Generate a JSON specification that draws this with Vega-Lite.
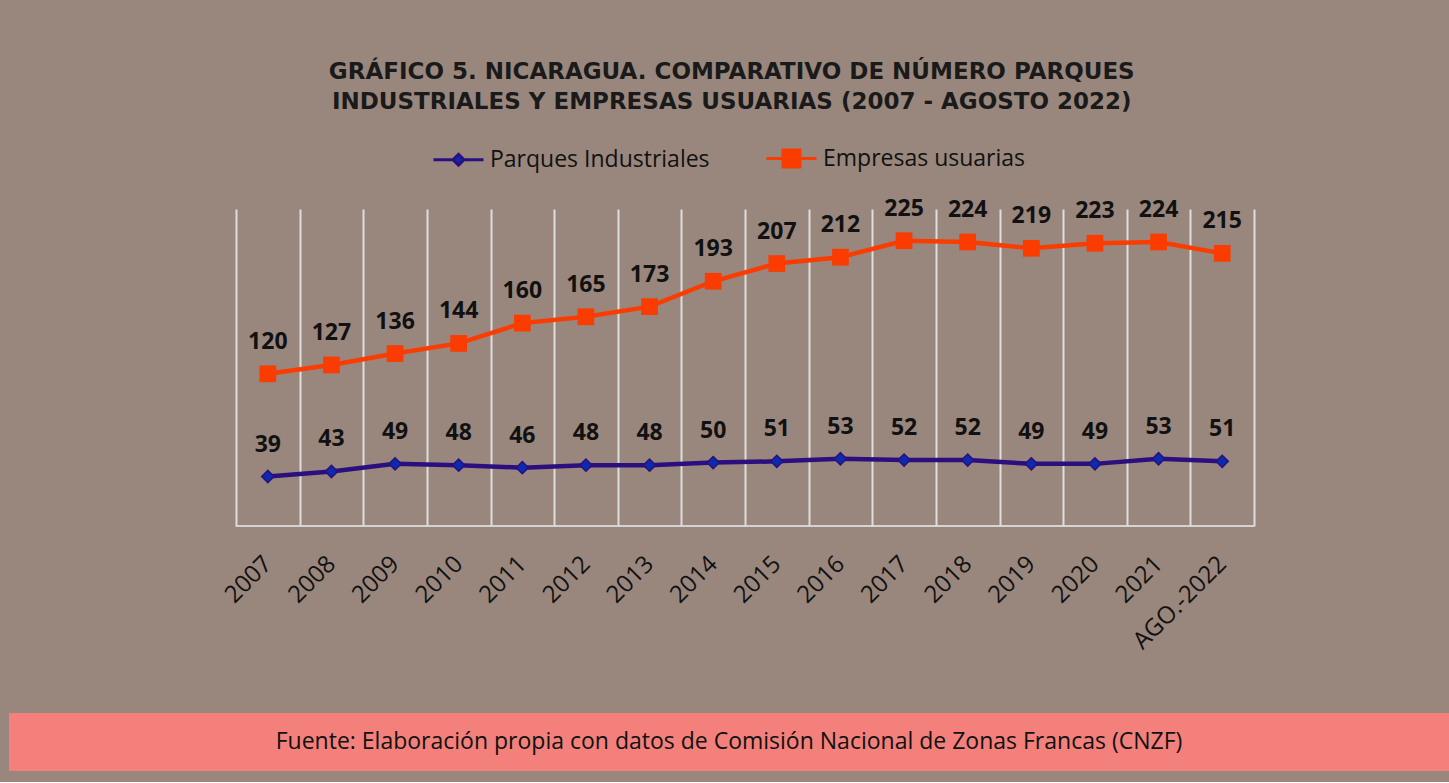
{
  "$schema": "https://vega.github.io/schema/vega-lite/v6.json",
  "background": "#99877d",
  "padding": {"left": 0, "top": 61, "right": 0, "bottom": 11},
  "config": {
    "view": {"stroke": null},
    "font": "Open Sans",
    "legend": {"layout": {"top": {"anchor": "middle", "direction": "horizontal"}}}
  },
  "title": {
    "text": ["GRÁFICO 5. NICARAGUA. COMPARATIVO DE NÚMERO PARQUES", "INDUSTRIALES Y EMPRESAS USUARIAS (2007 - AGOSTO 2022)"],
    "font": "DejaVu Sans",
    "fontWeight": "bold",
    "fontSize": 23,
    "lineHeight": 30,
    "color": "#1a1a1a",
    "anchor": "middle",
    "dx": 7,
    "offset": 18
  },
  "spacing": 187,
  "bounds": "flush",
  "resolve": {
    "scale": {"shape": "independent", "fill": "independent", "stroke": "independent", "color": "independent"},
    "legend": {"shape": "independent", "fill": "independent", "stroke": "independent", "color": "independent"}
  },
  "vconcat": [
    {
      "width": 1440,
      "height": 317,
      "data": {
        "values": [
          {"anio": "2007", "serie": "Parques Industriales", "valor": 39},
          {"anio": "2008", "serie": "Parques Industriales", "valor": 43},
          {"anio": "2009", "serie": "Parques Industriales", "valor": 49},
          {"anio": "2010", "serie": "Parques Industriales", "valor": 48},
          {"anio": "2011", "serie": "Parques Industriales", "valor": 46},
          {"anio": "2012", "serie": "Parques Industriales", "valor": 48},
          {"anio": "2013", "serie": "Parques Industriales", "valor": 48},
          {"anio": "2014", "serie": "Parques Industriales", "valor": 50},
          {"anio": "2015", "serie": "Parques Industriales", "valor": 51},
          {"anio": "2016", "serie": "Parques Industriales", "valor": 53},
          {"anio": "2017", "serie": "Parques Industriales", "valor": 52},
          {"anio": "2018", "serie": "Parques Industriales", "valor": 52},
          {"anio": "2019", "serie": "Parques Industriales", "valor": 49},
          {"anio": "2020", "serie": "Parques Industriales", "valor": 49},
          {"anio": "2021", "serie": "Parques Industriales", "valor": 53},
          {"anio": "AGO.-2022", "serie": "Parques Industriales", "valor": 51},
          {"anio": "2007", "serie": "Empresas usuarias", "valor": 120},
          {"anio": "2008", "serie": "Empresas usuarias", "valor": 127},
          {"anio": "2009", "serie": "Empresas usuarias", "valor": 136},
          {"anio": "2010", "serie": "Empresas usuarias", "valor": 144},
          {"anio": "2011", "serie": "Empresas usuarias", "valor": 160},
          {"anio": "2012", "serie": "Empresas usuarias", "valor": 165},
          {"anio": "2013", "serie": "Empresas usuarias", "valor": 173},
          {"anio": "2014", "serie": "Empresas usuarias", "valor": 193},
          {"anio": "2015", "serie": "Empresas usuarias", "valor": 207},
          {"anio": "2016", "serie": "Empresas usuarias", "valor": 212},
          {"anio": "2017", "serie": "Empresas usuarias", "valor": 225},
          {"anio": "2018", "serie": "Empresas usuarias", "valor": 224},
          {"anio": "2019", "serie": "Empresas usuarias", "valor": 219},
          {"anio": "2020", "serie": "Empresas usuarias", "valor": 223},
          {"anio": "2021", "serie": "Empresas usuarias", "valor": 224},
          {"anio": "AGO.-2022", "serie": "Empresas usuarias", "valor": 215}
        ]
      },
      "encoding": {
        "x": {
          "field": "anio",
          "type": "ordinal",
          "sort": null,
          "scale": {"type": "band", "range": [227, 1245], "paddingInner": 0, "paddingOuter": 0},
          "axis": {
            "title": null,
            "domain": false,
            "ticks": false,
            "grid": true,
            "gridColor": "#dedede",
            "gridWidth": 2,
            "tickBand": "extent",
            "labelAngle": -45,
            "labelAlign": "right",
            "labelBaseline": "middle",
            "labelPadding": 34,
            "labelFontSize": 24,
            "labelFont": "Open Sans",
            "labelColor": "#111111"
          }
        },
        "y": {"field": "valor", "type": "quantitative", "scale": {"domain": [0, 250]}, "axis": null}
      },
      "layer": [
        {
          "mark": {"type": "point", "filled": true, "opacity": 1},
          "encoding": {
            "shape": {
              "field": "serie",
              "type": "nominal",
              "scale": {
                "domain": ["Parques Industriales", "Empresas usuarias"],
                "range": [
                  "M-1,0L-0.22,0M0.22,0L1,0M0,-0.22L0.22,0L0,0.22L-0.22,0Z",
                  "M-1,0L-0.34,0M0.34,0L1,0M-0.34,-0.34L0.34,-0.34L0.34,0.34L-0.34,0.34Z"
                ]
              },
              "legend": {
                "title": null,
                "orient": "top",
                "offset": 36,
                "direction": "horizontal",
                "symbolSize": 2500,
                "symbolStrokeWidth": 3,
                "symbolOpacity": 1,
                "labelFontSize": 23,
                "labelColor": "#111111",
                "columnPadding": 50,
                "labelOffset": 5,
                "labelLimit": 400
              }
            },
            "fill": {
              "field": "serie",
              "type": "nominal",
              "scale": {"domain": ["Parques Industriales", "Empresas usuarias"], "range": ["#0b2aad", "#fa3c00"]}
            },
            "stroke": {
              "field": "serie",
              "type": "nominal",
              "scale": {"domain": ["Parques Industriales", "Empresas usuarias"], "range": ["#2b0f7e", "#fa3c00"]}
            }
          }
        },
        {
          "mark": {"type": "tick", "color": "#dcdcdc", "thickness": 2, "size": 64, "orient": "horizontal"},
          "encoding": {"y": {"datum": 0}}
        },
        {
          "mark": {"type": "line", "strokeWidth": 4.5},
          "encoding": {
            "color": {
              "field": "serie",
              "type": "nominal",
              "scale": {"domain": ["Parques Industriales", "Empresas usuarias"], "range": ["#2b0f7e", "#fa3c00"]},
              "legend": null
            }
          }
        },
        {
          "transform": [{"filter": "datum.serie == 'Parques Industriales'"}],
          "mark": {"type": "point", "shape": "diamond", "filled": true, "fill": "#0b2aad", "stroke": "#2b0f7e", "strokeWidth": 1.5, "size": 150, "opacity": 1}
        },
        {
          "transform": [{"filter": "datum.serie == 'Empresas usuarias'"}],
          "mark": {"type": "point", "shape": "square", "filled": true, "fill": "#fa3c00", "size": 280, "opacity": 1}
        },
        {
          "mark": {"type": "text", "dy": -32, "fontWeight": "bold", "fontSize": 23, "font": "Open Sans", "color": "#111111", "baseline": "middle"},
          "encoding": {"text": {"field": "valor", "type": "quantitative"}}
        }
      ]
    },
    {
      "width": 1440,
      "height": 58,
      "view": {"fill": "#f3807b", "stroke": null},
      "data": {"values": [{"fuente": "Fuente: Elaboración propia con datos de Comisión Nacional de Zonas Francas (CNZF)"}]},
      "mark": {"type": "text", "fontSize": 23, "font": "Open Sans", "color": "#111111", "baseline": "middle", "align": "center"},
      "encoding": {"text": {"field": "fuente", "type": "nominal"}}
    }
  ]
}
